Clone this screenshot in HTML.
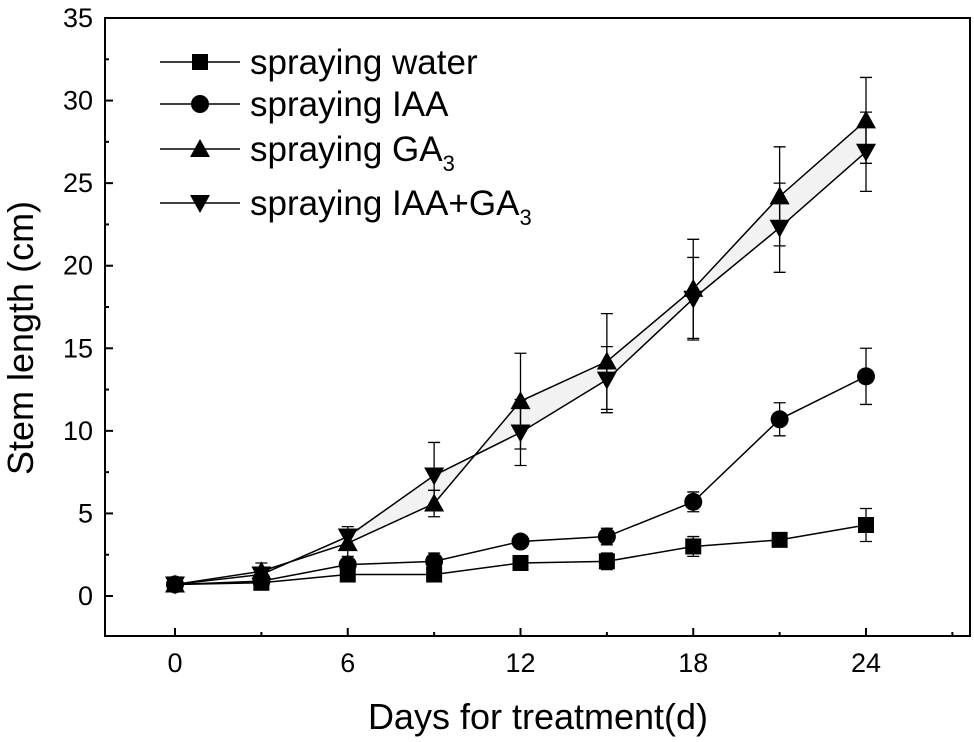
<!DOCTYPE html>
<html><head><meta charset="utf-8"><style>
html,body{margin:0;padding:0;background:#fff;}
svg{display:block;font-family:"Liberation Sans",Arial,sans-serif;}
</style></head><body>
<svg id="chart" width="974" height="742" viewBox="0 0 974 742" xmlns="http://www.w3.org/2000/svg">
<g id="fill"></g>
<g id="axes"></g>
<g id="series"></g>
<g id="legend"></g>
</svg>
<script>
const days = [0,3,6,9,12,15,18,21,24];
const water = [0.7,0.8,1.3,1.3,2.0,2.1,3.0,3.4,4.3];
const waterErr = [0.2,0.2,0.2,0.2,0.2,0.5,0.6,0.2,1.0];
const iaa = [0.7,0.9,1.9,2.1,3.3,3.6,5.7,10.7,13.3];
const iaaErr = [0.2,0.3,0.3,0.5,0.3,0.5,0.6,1.0,1.7];
const ga3 = [0.7,1.5,3.2,5.6,11.8,14.2,18.6,24.2,28.8];
const ga3Err = [0.2,0.5,0.8,0.8,2.9,2.9,3.0,3.0,2.6];
const iaaGa3 = [0.7,1.3,3.6,7.3,9.9,13.1,18.0,22.3,26.9];
const iaaGa3Err = [0.2,0.4,0.6,2.0,2.0,2.0,2.5,2.7,2.4];
const xTicks = [0,6,12,18,24];
const yTicks = [0,5,10,15,20,25,30,35];

const NS="http://www.w3.org/2000/svg";
const L=105,R=970,T=18,B=636;
const x=d=>175+d*(866-175)/24;
const y=v=>596-v*(596-18)/35;
function mk(tag,attrs,parent){const e=document.createElementNS(NS,tag);for(const k in attrs)e.setAttribute(k,attrs[k]);parent.appendChild(e);return e;}
const axes=document.getElementById('axes');
const box=mk('rect',{x:L,y:T,width:R-L,height:B-T,fill:'none',stroke:'#000','stroke-width':2},axes);


xTicks.forEach(t=>{
  mk('line',{x1:x(t),x2:x(t),y1:B,y2:B-8,stroke:'#000','stroke-width':2},axes);
  const tx=mk('text',{x:x(t),y:B+36,'font-size':27,'text-anchor':'middle'},axes);
  tx.textContent=t;
  
  
});
for(let t=3;t<=27;t+=6) mk('line',{x1:x(t),x2:x(t),y1:B,y2:B-4,stroke:'#000','stroke-width':2},axes);
yTicks.forEach(t=>{
  mk('line',{x1:L,x2:L+8,y1:y(t),y2:y(t),stroke:'#000','stroke-width':2},axes);
  const tx=mk('text',{x:L-12,y:y(t)+9,'font-size':27,'text-anchor':'end'},axes);
  tx.textContent=t;
  
  
});
for(let t=2.5;t<35;t+=5) mk('line',{x1:L,x2:L+4,y1:y(t),y2:y(t),stroke:'#000','stroke-width':2},axes);
const xt=mk('text',{x:538,y:729,'font-size':36,'text-anchor':'middle'},axes);
xt.textContent='Days for treatment(d)';


const yt=mk('text',{x:0,y:0,'font-size':36,'text-anchor':'middle',transform:'translate(33,338) rotate(-90)'},axes);
yt.textContent='Stem length (cm)';



let pts=days.map((d,i)=>x(d)+','+y(ga3[i])).concat(days.slice().reverse().map((d,j)=>{const i=days.length-1-j;return x(d)+','+y(iaaGa3[i]);}));
const fl=mk('polygon',{points:pts.join(' '),fill:'#f2f2f2'},document.getElementById('fill'));



function marker(type,cx,cy,parent){
  if(type==='square') return mk('rect',{x:cx-8,y:cy-8,width:16,height:16,fill:'#000'},parent);
  if(type==='circle') return mk('circle',{cx:cx,cy:cy,r:9,fill:'#000'},parent);
  if(type==='up') return mk('polygon',{points:`${cx-10},${cy+8} ${cx+10},${cy+8} ${cx},${cy-10}`,fill:'#000'},parent);
  return mk('polygon',{points:`${cx-10},${cy-8} ${cx+10},${cy-8} ${cx},${cy+10}`,fill:'#000'},parent);
}
const seriesG=document.getElementById('series');
const defs=[['water',water,waterErr,'square'],['iaa',iaa,iaaErr,'circle'],['ga3',ga3,ga3Err,'up'],['iaa-ga3',iaaGa3,iaaGa3Err,'down']];
defs.forEach(([name,vals,errs,m])=>{
  const g=mk('g',{},seriesG);
  
  
  const pl=mk('polyline',{points:days.map((d,i)=>x(d)+','+y(vals[i])).join(' '),fill:'none',stroke:'#000','stroke-width':1.5},g);
  
  
  days.forEach((d,i)=>{
    const cx=x(d),lo=y(vals[i]-errs[i]),hi=y(vals[i]+errs[i]);
    const eb=mk('path',{d:`M${cx},${lo}V${hi}M${cx-6},${hi}H${cx+6}M${cx-6},${lo}H${cx+6}`,stroke:'#000','stroke-width':1.3,fill:'none'},g);
    
    
    const mm=marker(m,cx,y(vals[i]),g);
    
    
  });
});
const lg=document.getElementById('legend');
const legendRows=[['spraying water','','square',62],['spraying IAA','','circle',104],['spraying GA','3','up',149],['spraying IAA+GA','3','down',203]];
legendRows.forEach(([lbl,sub,m,ly])=>{
  const g=mk('g',{},lg);
  
  
  mk('line',{x1:160,x2:240,y1:ly,y2:ly,stroke:'#000','stroke-width':1.5},g);
  marker(m,200,ly,g);
  const t=mk('text',{x:250,y:ly+12,'font-size':35},g);
  t.textContent=lbl;
  if(sub){const s=mk('tspan',{'font-size':22,dy:10},t);s.textContent=sub;}
});
</script>
</body></html>
